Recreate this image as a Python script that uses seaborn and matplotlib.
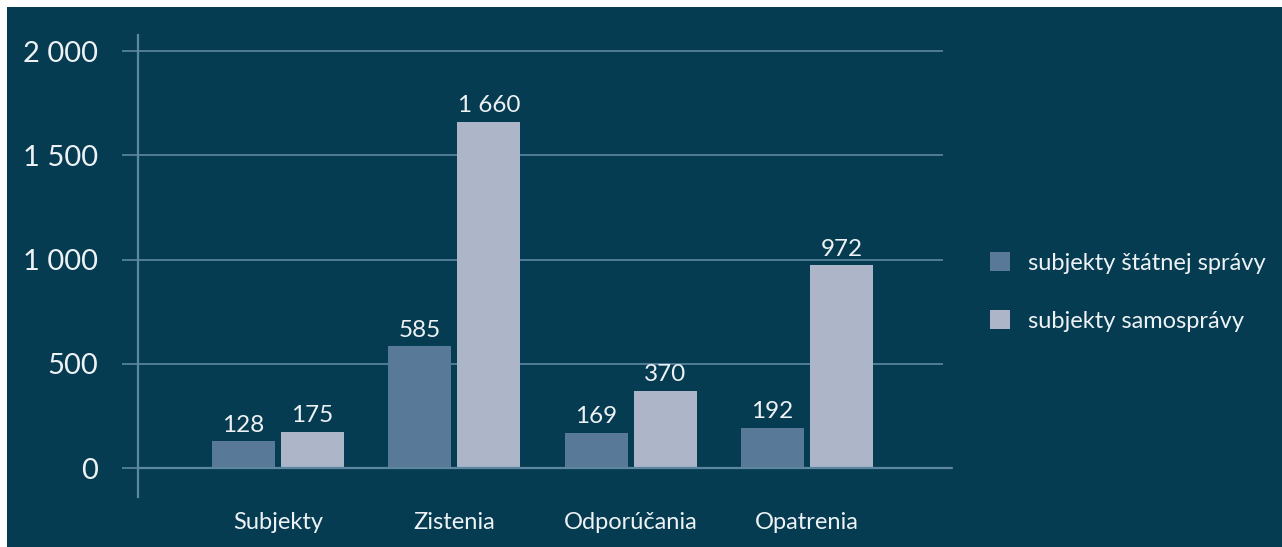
import matplotlib
matplotlib.use("Agg")
import matplotlib.pyplot as plt
import seaborn as sns
import pandas as pd
from matplotlib.patches import Rectangle

categories = ["Subjekty", "Zistenia", "Odporúčania", "Opatrenia"]
series_names = ["subjekty štátnej správy", "subjekty samosprávy"]
state_values = [128, 585, 169, 192]
selfgov_values = [175, 1660, 370, 972]
y_ticks = [0, 500, 1000, 1500, 2000]
y_tick_labels = ["0", "500", "1 000", "1 500", "2 000"]

BG = "#053c51"
GRID = "#5d87a1"
TXT = "#eef2f5"
C_DARK = "#587998"
C_LIGHT = "#adb5c8"

df = pd.DataFrame({
    "cat": categories * 2,
    "series": [series_names[0]] * 4 + [series_names[1]] * 4,
    "value": state_values + selfgov_values,
})

sns.set_theme(style="white")
plt.rcParams["font.family"] = ["Lato", "DejaVu Sans"]

W, H = 1282, 547
fig = plt.figure(figsize=(W / 100, H / 100), dpi=100)
fig.patch.set_facecolor("white")
fig.patches.append(Rectangle((7 / W, 0), 1 - 7 / W, 1 - 7 / H, transform=fig.transFigure,
                             facecolor=BG, edgecolor="none", zorder=-10))

ax = fig.add_axes([138 / W, 50 / H, (943 - 138) / W, (497 - 35) / H])
ax.set_facecolor("none")

sns.barplot(data=df, x="cat", y="value", hue="series", order=categories,
            hue_order=series_names, palette=[C_DARK, C_LIGHT], width=0.782,
            gap=0.087, saturation=1, ax=ax, legend=True, zorder=3,
            edgecolor="none", linewidth=0)

ax.set_xlim(-0.793, 3.77)
ax.set_ylim(-139, 2077)

for v in y_ticks[1:]:
    ax.axhline(v, color=GRID, lw=1.2, zorder=1)
ax.axhline(0, xmin=0, xmax=1.011, color=GRID, lw=1.6, zorder=4, clip_on=False)

ax.set_yticks(y_ticks)
ax.set_yticklabels(y_tick_labels)
ax.tick_params(axis="y", length=11.5, width=1.2, color=GRID, pad=17,
               labelsize=21, labelcolor=TXT, left=True)
ax.tick_params(axis="x", length=0, pad=11, labelsize=17, labelcolor=TXT)
ax.set_xlabel("")
ax.set_ylabel("")

for s in ["top", "right", "bottom"]:
    ax.spines[s].set_visible(False)
ax.spines["left"].set_color(GRID)
ax.spines["left"].set_linewidth(1.6)

for cont in ax.containers:
    ax.bar_label(cont, labels=[f"{v:,.0f}".replace(",", " ") for v in cont.datavalues],
                 padding=4, fontsize=17.5, color=TXT)

handles, labels = ax.get_legend_handles_labels()
ax.get_legend().remove()
for h in handles:
    h.set_edgecolor("none")
fig.legend(handles, labels, loc="center left", bbox_to_anchor=(978 / W, 1 - 292 / H),
           frameon=False, fontsize=17, labelcolor=TXT, handlelength=0.85,
           handleheight=0.85, handletextpad=0.75, labelspacing=1.55, borderpad=0)

fig.savefig("out.png", dpi=100, facecolor=fig.get_facecolor())
